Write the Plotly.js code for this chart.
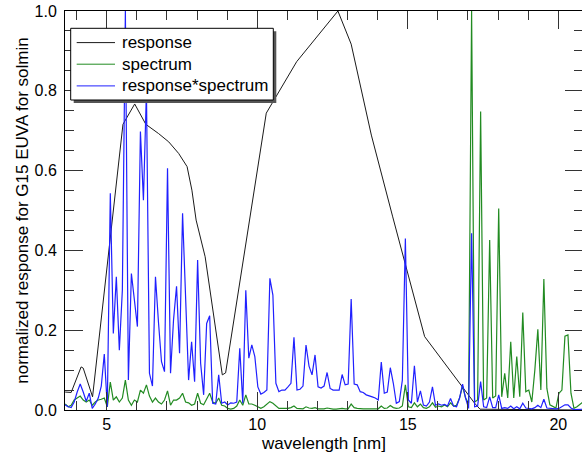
<!DOCTYPE html>
<html>
<head>
<meta charset="utf-8">
<script src="https://cdn.plot.ly/plotly-3.0.1.min.js"></script>
<style>
html, body { margin:0; padding:0; overflow:hidden; background:#fff; }
#chart { width:584px; height:454px; }
</style>
</head>
<body>
<div id="chart"></div>
<script>
// Wavelength grid of the spectrum samples (nm)
const wlStart = 3.62;
const wlStep = 0.1;

// normalized solar spectrum (green)
const spectrum = [
  0.015, 0.008, 0.012, 0.025, 0.03, 0.035, 0.025, 0.02, 0.025, 0.012,
  0.02, 0.025, 0.027, 0.03, 0.008, 0.07, 0.025, 0.033, 0.02, 0.03,
  0.075, 0.025, 0.012, 0.025, 0.02, 0.05, 0.042, 0.063, 0.035, 0.02,
  0.03, 0.02, 0.015, 0.025, 0.048, 0.012, 0.025, 0.025, 0.03, 0.042,
  0.02, 0.018, 0.012, 0.015, 0.042, 0.017, 0.013, 0.029, 0.042, 0.02,
  0.017, 0.03, 0.012, 0.01, 0.004, 0.002, 0.004, 0.01, 0.025, 0.012,
  0.038, 0.015, 0.015, 0.012, 0.008, 0.004, 0.008, 0.015, 0.021, 0.017,
  0.01, 0.004, 0.004, 0.004, 0.004, 0.006, 0.01, 0.004, 0.004, 0.003,
  0.008, 0.005, 0.004, 0.006, 0.003, 0.003, 0.003, 0.005, 0.003, 0.002,
  0.002, 0.003, 0.004, 0.003, 0.003, 0.015, 0.006, 0.004, 0.003, 0.003,
  0.003, 0.003, 0.003, 0.003, 0.003, 0.01, 0.004, 0.005, 0.011, 0.006,
  0.004, 0.005, 0.01, 0.063, 0.008, 0.006, 0.018, 0.008, 0.015, 0.006,
  0.004, 0.008, 0.018, 0.007, 0.01, 0.008, 0.0125, 0.008, 0.018, 0.01,
  0.012, 0.03, 0.06, 0.03, 0.017, 1.0, 0.02, 0.025, 0.748, 0.025,
  0.03, 0.426, 0.03, 0.035, 0.505, 0.033, 0.092, 0.03, 0.171, 0.03,
  0.134, 0.033, 0.244, 0.046, 0.05, 0.02, 0.1, 0.202, 0.05, 0.328,
  0.054, 0.013, 0.008, 0.005, 0.042, 0.05, 0.185, 0.188, 0.042, 0.004,
  0.008, 0.015, 0.02
];

// normalized response*spectrum (blue)
const respSpec = [
  0.013, 0.008, 0.006, 0.02, 0.045, 0.065, 0.045, 0.022, 0.042, 0.004,
  0.015, 0.03, 0.06, 0.14, 0.008, 0.543, 0.192, 0.334, 0.15, 0.30,
  1.0, 0.075, 0.342, 0.27, 0.209, 0.698, 0.526, 0.80, 0.092, 0.06,
  0.334, 0.22, 0.121, 0.096, 0.606, 0.092, 0.226, 0.31, 0.142, 0.493,
  0.26, 0.075, 0.171, 0.071, 0.376, 0.117, 0.038, 0.217, 0.236, 0.017,
  0.015, 0.088, 0.017, 0.02, 0.0125, 0.018, 0.017, 0.02, 0.155, 0.017,
  0.30, 0.13, 0.163, 0.134, 0.058, 0.04, 0.044, 0.05, 0.33, 0.288,
  0.067, 0.046, 0.05, 0.05, 0.058, 0.067, 0.182, 0.05, 0.052, 0.06,
  0.163, 0.11, 0.088, 0.138, 0.058, 0.055, 0.06, 0.094, 0.054, 0.05,
  0.05, 0.05, 0.089, 0.063, 0.065, 0.278, 0.065, 0.063, 0.046, 0.044,
  0.038, 0.036, 0.033, 0.03, 0.025, 0.12, 0.042, 0.045, 0.106, 0.067,
  0.017, 0.021, 0.075, 0.43, 0.025, 0.017, 0.111, 0.02, 0.048, 0.0125,
  0.01, 0.02, 0.058, 0.012, 0.015, 0.012, 0.014, 0.01, 0.029, 0.01,
  0.008, 0.03, 0.065, 0.03, 0.004, 0.443, 0.008, 0.01, 0.071, 0.008,
  0.006, 0.033, 0.006, 0.006, 0.038, 0.004, 0.006, 0.004, 0.01, 0.003,
  0.008, 0.003, 0.017, 0.005, 0.004, 0.003, 0.006, 0.012, 0.006, 0.027,
  0.005, 0.004, 0.004, 0.003, 0.004, 0.008, 0.013, 0.013, 0.005, 0.001,
  0.001, 0.002, 0.002
];

// instrument response (black)
const respWl  = [3.62, 3.82, 4.15, 4.22, 4.53, 5.54, 5.93, 6.3, 6.72, 7.06, 7.39, 7.67, 7.83, 7.97, 8.27, 8.84, 8.95, 9.75, 10.3, 11.31, 12.68, 13.12, 13.79, 14.5, 15.56, 17.22, 17.4, 20.82];
const respVal = [0.045, 0.044, 0.108, 0.105, 0.033, 0.716, 0.767, 0.716, 0.693, 0.672, 0.643, 0.61, 0.551, 0.476, 0.384, 0.088, 0.093, 0.476, 0.744, 0.873, 1.0, 0.917, 0.689, 0.484, 0.184, 0.017, 0.002, 0.0];

const legendNames = ['response', 'spectrum', 'response*spectrum'];
const seriesColors = ['#1a1a1a', '#228b22', '#2020ff'];
const xTitle = 'wavelength [nm]';
const yTitle = 'normalized response for G15 EUVA for solmin';

const FONT = 'Liberation Sans, Arial, Helvetica, sans-serif';

const traces = [
  { x: respWl, y: respVal, name: legendNames[0], type: 'scatter', mode: 'lines',
    line: { color: seriesColors[0], width: 1 } },
  { y: spectrum, x0: wlStart, dx: wlStep, name: legendNames[1], type: 'scatter', mode: 'lines',
    line: { color: seriesColors[1], width: 1.2 } },
  { y: respSpec, x0: wlStart, dx: wlStep, name: legendNames[2], type: 'scatter', mode: 'lines',
    line: { color: seriesColors[2], width: 1.2 } }
];

// plot-area geometry (pixels) used to place the boxed legend
const PL = 65, PW = 518, PB = 410, PH = 399;
const px = v => (v - PL) / PW;
const py = v => (PB - v) / PH;

const legBox = { x0: 70.7, x1: 273.3, y0: 28.3, y1: 100 };
const legRows = [42.6, 64.2, 85.9];
const shapes = [
  { type: 'rect', xref: 'paper', yref: 'paper', layer: 'above',
    x0: px(legBox.x0 + 3), x1: px(legBox.x1 + 3), y0: py(legBox.y1 + 3), y1: py(legBox.y0 + 3),
    fillcolor: '#555', line: { width: 0 } },
  { type: 'rect', xref: 'paper', yref: 'paper', layer: 'above',
    x0: px(legBox.x0), x1: px(legBox.x1), y0: py(legBox.y1), y1: py(legBox.y0),
    fillcolor: '#fff', line: { color: '#000', width: 1 } }
];
const annotations = [];
legendNames.forEach((name, i) => {
  shapes.push({ type: 'line', xref: 'paper', yref: 'paper', layer: 'above',
    x0: px(76.7), x1: px(115), y0: py(legRows[i]), y1: py(legRows[i]),
    line: { color: seriesColors[i], width: 1 } });
  annotations.push({ xref: 'paper', yref: 'paper', x: px(120), y: py(legRows[i]),
    xanchor: 'left', yanchor: 'middle', showarrow: false, text: name,
    font: { family: FONT, size: 17, color: '#000' } });
});

const axisCommon = {
  showline: true, linecolor: '#000', linewidth: 1, mirror: 'ticks',
  ticks: 'inside', ticklen: 18, tickwidth: 1, tickcolor: '#333',
  showgrid: false, zeroline: false,
  tickfont: { family: FONT, size: 16, color: '#000' }
};

const layout = {
  width: 584, height: 454,
  margin: { l: PL, r: 1, t: 11, b: 44 },
  paper_bgcolor: '#fff', plot_bgcolor: '#fff',
  font: { family: FONT, color: '#000' },
  showlegend: false,
  shapes: shapes,
  annotations: annotations,
  xaxis: Object.assign({}, axisCommon, {
    range: [3.615, 20.82], tick0: 0, dtick: 5,
    minor: { ticks: 'inside', ticklen: 9, dtick: 1, tick0: 0, tickcolor: '#333', showgrid: false },
    title: { text: xTitle, font: { family: FONT, size: 17, color: '#000' }, standoff: 4 }
  }),
  yaxis: Object.assign({}, axisCommon, {
    range: [0, 1], tick0: 0, dtick: 0.2, tickformat: '.1f',
    ticklabelstandoff: 4,
    minor: { ticks: 'inside', ticklen: 9, dtick: 0.05, tick0: 0, tickcolor: '#333', showgrid: false },
    title: { text: yTitle, font: { family: FONT, size: 17, color: '#000' }, standoff: 1 }
  })
};

Plotly.newPlot('chart', traces, layout, { staticPlot: true, displayModeBar: false });
</script>
</body>
</html>
